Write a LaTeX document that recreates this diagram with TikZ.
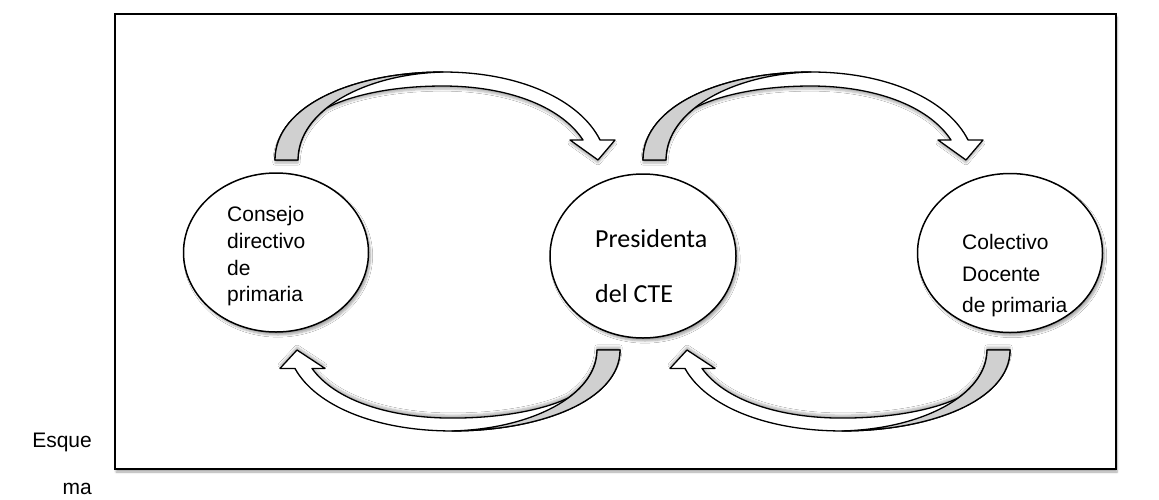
\documentclass[tikz,border=0pt]{standalone}
\usepackage{fontspec}
\setmainfont{Liberation Sans}
\newfontfamily\calibri{Carlito}
\usetikzlibrary{shapes.geometric,shadows.blur}
\definecolor{bandgray}{RGB}{208,208,208}
\tikzset{
  arrowline/.style={draw=black, line width=1.3pt, line join=round},
  curvedarrow/.pic={
    \path[arrowline, fill=white,
          blur shadow={shadow xshift=0pt, shadow yshift=#1, shadow blur steps=6, shadow opacity=30}]
      (0,0) .. controls (0,55) and (80,88) .. (168,88)
      .. controls (245,88) and (305,60) .. (325,20)
      -- (340,20) -- (323,0) -- (295,20) -- (308,20)
      .. controls (285,55) and (230,74) .. (168,74)
      .. controls (110,74) and (70,62) .. (51.6,52)
      .. controls (33.72,37.76) and (23,20) .. (23,0) -- cycle;
    \path[arrowline, fill=bandgray]
      (0,0) .. controls (0,55) and (80,88) .. (168,88)
      .. controls (90,86) and (23,50) .. (23,0) -- cycle;
  },
  bubble/.style={ellipse, draw=black, line width=1.5pt, fill=white, inner sep=0pt,
    minimum width=185pt, minimum height=159pt,
    blur shadow={shadow xshift=2pt, shadow yshift=-3pt, shadow blur steps=6, shadow opacity=35}},
  label21/.style={inner sep=0pt, align=left, font=\fontsize{21}{26.7}\selectfont},
}
\begin{document}
\begin{tikzpicture}[x=1pt,y=1pt]
\useasboundingbox (0,0) rectangle (1159,-499);
% frame
\node[draw=black, line width=2pt, fill=white, inner sep=0pt,
      minimum width=1001pt, minimum height=455pt,
      blur shadow={shadow xshift=1pt, shadow yshift=-3pt, shadow blur steps=6, shadow opacity=35}]
  (frame) at (615.5,-241.5) {};
% ellipses
\node[bubble] (c1) at (276,-252.5) {};
\node[bubble, minimum width=186pt, minimum height=164pt] (c2) at (643,-256) {};
\node[bubble] (c3) at (1010,-253) {};
% texts
\node[label21, anchor=west] (t1) at (227,-256.5) {Consejo\\directivo\\de\\primaria};
\node[inner sep=0pt, align=left, anchor=west, font=\calibri\fontsize{26}{55}\selectfont]
  (t2) at (595,-266) {Presidenta\\del CTE};
\node[inner sep=0pt, align=left, anchor=west, font=\fontsize{21}{31.5}\selectfont]
  (t3) at (962,-276) {Colectivo\\Docente\\de primaria};
% curved arrows
\coordinate (a1) at (275,-160);
\coordinate (a2) at (643,-160);
\coordinate (b1) at (620,-350);
\coordinate (b2) at (1010,-350);
\pic at (a1) {curvedarrow=-3pt};
\pic at (a2) {curvedarrow=-3pt};
\pic[rotate=180, yscale=0.92] at (b1) {curvedarrow=3pt};
\pic[rotate=180, yscale=0.92] at (b2) {curvedarrow=3pt};
% caption
\node[anchor=base east, inner sep=0pt, font=\fontsize{21}{25}\selectfont] (e1) at (92,-447) {Esque};
\node[anchor=base east, inner sep=0pt, font=\fontsize{21}{25}\selectfont] (e2) at (92,-494) {ma};
\end{tikzpicture}
\end{document}
